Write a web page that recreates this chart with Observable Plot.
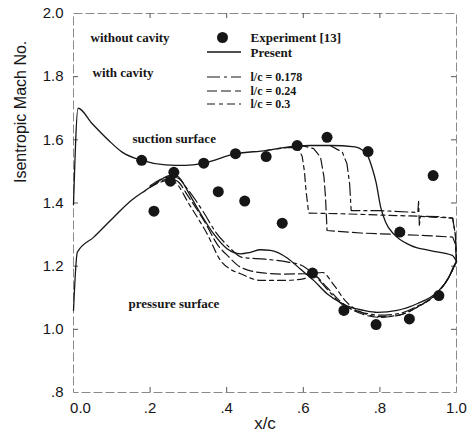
<!DOCTYPE html>
<html>
<head>
<meta charset="utf-8">
<script src="https://cdn.jsdelivr.net/npm/d3@7"></script>
<script src="https://cdn.jsdelivr.net/npm/@observablehq/plot@0.6"></script>
<style>
  html, body { margin: 0; padding: 0; background: #fff; }
  #chart { width: 471px; height: 442px; }
</style>
</head>
<body>
<div id="chart"></div>
<script>
// ---- data ----
const xTicks = [0, 0.2, 0.4, 0.6, 0.8, 1.0];
const yTicks = [0.8, 1.0, 1.2, 1.4, 1.6, 1.8, 2.0];

// Experiment [13]
const expX = [0.178, 0.210, 0.253, 0.262, 0.340, 0.378, 0.423, 0.447, 0.503, 0.545,
              0.584, 0.624, 0.662, 0.706, 0.769, 0.790, 0.852, 0.877, 0.939, 0.954];
const expM = [1.535, 1.374, 1.469, 1.497, 1.526, 1.436, 1.556, 1.406, 1.547, 1.336,
              1.582, 1.178, 1.608, 1.060, 1.563, 1.015, 1.308, 1.033, 1.487, 1.107];

// Present, without cavity — suction surface
const sucX = [0, 0.012, 0.049, 0.092, 0.127, 0.178, 0.24, 0.292, 0.34, 0.423, 0.503, 0.549,
              0.584, 0.619, 0.671, 0.735, 0.754, 0.768, 0.78, 0.79, 0.802, 0.815, 0.836, 0.88, 0.932, 0.989, 1.0];
const sucM = [1.395, 1.70, 1.651, 1.598, 1.561, 1.535, 1.521, 1.519, 1.526, 1.556, 1.566, 1.575,
              1.580, 1.582, 1.582, 1.578, 1.568, 1.550, 1.51, 1.465, 1.387, 1.339, 1.302, 1.266, 1.249, 1.234, 1.215];

// Present, without cavity — pressure surface
const presX = [0, 0.01, 0.053, 0.105, 0.153, 0.188, 0.218, 0.245, 0.262, 0.28, 0.297, 0.332, 0.366, 0.401,
               0.436, 0.462, 0.488, 0.514, 0.558, 0.593, 0.627, 0.662, 0.697, 0.723, 0.758, 0.793,
               0.845, 0.897, 0.95, 0.98, 0.993, 1.0];
const presM = [1.06, 1.244, 1.292, 1.355, 1.41, 1.44, 1.465, 1.485, 1.49, 1.475, 1.44, 1.366, 1.302, 1.255,
               1.239, 1.244, 1.252, 1.25, 1.226, 1.19, 1.155, 1.113, 1.085, 1.07, 1.06, 1.054,
               1.06, 1.081, 1.118, 1.165, 1.2, 1.215];

// With cavity, l/c = 0.178 — suction and pressure surfaces
const s178X = [0.6, 0.67, 0.702, 0.714, 0.721, 0.725, 0.8, 0.899, 0.901, 0.903, 0.906, 0.95, 0.99, 0.997, 1.0];
const s178M = [1.582, 1.582, 1.561, 1.524, 1.46, 1.376, 1.376, 1.37, 1.405, 1.33, 1.358, 1.357, 1.352, 1.30, 1.215];
const p178X = [0.2, 0.25, 0.27, 0.3, 0.34, 0.37, 0.405, 0.44, 0.5, 0.56, 0.6, 0.63, 0.66, 0.7, 0.75, 0.8, 0.85, 0.9, 0.95, 0.98, 1.0];
const p178M = [1.455, 1.482, 1.48, 1.44, 1.37, 1.31, 1.262, 1.228, 1.222, 1.213, 1.2, 1.17, 1.13, 1.08, 1.055, 1.045, 1.05, 1.075, 1.115, 1.165, 1.215];

// With cavity, l/c = 0.24
const s24X = [0.55, 0.6, 0.627, 0.645, 0.654, 0.658, 0.662, 0.75, 0.85, 0.92, 0.99, 0.997, 1.0];
const s24M = [1.575, 1.581, 1.572, 1.545, 1.482, 1.418, 1.313, 1.305, 1.3, 1.297, 1.292, 1.27, 1.215];
const p24X = [0.2, 0.25, 0.27, 0.3, 0.345, 0.375, 0.405, 0.436, 0.5, 0.55, 0.6, 0.63, 0.66, 0.7, 0.75, 0.8, 0.85, 0.9, 0.95, 0.98, 1.0];
const p24M = [1.45, 1.476, 1.47, 1.42, 1.335, 1.27, 1.23, 1.197, 1.178, 1.175, 1.176, 1.17, 1.135, 1.085, 1.05, 1.038, 1.045, 1.072, 1.115, 1.165, 1.215];

// With cavity, l/c = 0.3
const s3X = [0.5, 0.56, 0.585, 0.597, 0.603, 0.607, 0.611, 0.614, 0.7, 0.8, 0.9, 0.99, 0.997, 1.0];
const s3M = [1.566, 1.576, 1.575, 1.548, 1.5, 1.44, 1.4, 1.368, 1.366, 1.362, 1.358, 1.352, 1.30, 1.215];
const p3X = [0.2, 0.25, 0.27, 0.3, 0.35, 0.384, 0.41, 0.436, 0.488, 0.55, 0.6, 0.625, 0.65, 0.68, 0.71, 0.75, 0.8, 0.85, 0.9, 0.95, 0.98, 1.0];
const p3M = [1.45, 1.472, 1.46, 1.40, 1.30, 1.218, 1.19, 1.176, 1.155, 1.155, 1.16, 1.175, 1.18, 1.14, 1.09, 1.055, 1.04, 1.045, 1.072, 1.115, 1.165, 1.215];

// ---- build tables ----
const rows = (xs, ms) => xs.map((x, i) => ({x, m: ms[i]}));
const exp = rows(expX, expM);

const ink = "#161616";
const serif = "'Liberation Serif', 'Times New Roman', serif";
const dash178 = "13,4,3,4";
const dash24 = "10,4";
const dash3 = "8,4,4,4";
const frameW = 383, frameH = 379;

const fmtY = d => d >= 1 ? d.toFixed(1) : d.toFixed(1).replace(/^0/, "");
const fmtX = d => (d === 0 ? "0.0" : d === 1 ? "1.0" : d.toFixed(1).replace(/^0/, ""));

const note = (label, dx, dy, size) => Plot.text([label], {
  frameAnchor: "top-left", dx, dy, textAnchor: "start", lineAnchor: "middle",
  fontFamily: serif, fontWeight: "bold", fontSize: size, fill: ink
});

const chart = Plot.plot({
  width: 471,
  height: 442,
  marginLeft: 73,
  marginRight: 15,
  marginTop: 13,
  marginBottom: 50,
  x: {domain: [0, 1]},
  y: {domain: [0.8, 2.0]},
  style: {fontFamily: "'Liberation Sans', Arial, sans-serif", fontSize: "15px", color: ink, background: "#fff"},
  marks: [
    Plot.frame({stroke: "#8a8a8a", strokeWidth: 1, strokeDasharray: "9,3"}),
    // inward ticks on all sides
    Plot.ruleX(xTicks.slice(1, -1), {x: d => d, insetTop: frameH - 5, stroke: "#555"}),
    Plot.ruleX(xTicks.slice(1, -1), {x: d => d, insetBottom: frameH - 5, stroke: "#555"}),
    Plot.ruleY(yTicks.slice(1, -1), {y: d => d, insetRight: frameW - 5, stroke: "#555"}),
    Plot.ruleY(yTicks.slice(1, -1), {y: d => d, insetLeft: frameW - 5, stroke: "#555"}),
    // axes
    Plot.axisY(yTicks, {tickSize: 0, tickPadding: 10, tickFormat: fmtY, label: null, fontSize: 15}),
    Plot.axisX(xTicks.slice(1), {tickSize: 0, tickPadding: 10, tickFormat: fmtX, label: null, fontSize: 15}),
    Plot.axisX([0], {tickSize: 0, tickPadding: 10, tickFormat: fmtX, label: null, fontSize: 15, dx: 7}),
    Plot.text(["Isentropic Mach No."], {frameAnchor: "left", rotate: -90, dx: -53, dy: -20, fontSize: 16, fill: ink}),
    Plot.text(["x/c"], {frameAnchor: "bottom", dy: 36, fontSize: 17, fill: ink}),
    // without cavity
    Plot.line(rows(sucX, sucM), {x: "x", y: "m", stroke: ink, strokeWidth: 1.3, curve: "monotone-x"}),
    Plot.line(rows(presX, presM), {x: "x", y: "m", stroke: ink, strokeWidth: 1.3, curve: "monotone-x"}),
    // with cavity
    Plot.line(rows(s178X, s178M), {x: "x", y: "m", stroke: ink, strokeWidth: 1.2, strokeDasharray: dash178, curve: "linear"}),
    Plot.line(rows(p178X, p178M), {x: "x", y: "m", stroke: ink, strokeWidth: 1.2, strokeDasharray: dash178, curve: "monotone-x"}),
    Plot.line(rows(s24X, s24M), {x: "x", y: "m", stroke: ink, strokeWidth: 1.2, strokeDasharray: dash24, curve: "linear"}),
    Plot.line(rows(p24X, p24M), {x: "x", y: "m", stroke: ink, strokeWidth: 1.2, strokeDasharray: dash24, curve: "monotone-x"}),
    Plot.line(rows(s3X, s3M), {x: "x", y: "m", stroke: ink, strokeWidth: 1.2, strokeDasharray: dash3, curve: "linear"}),
    Plot.line(rows(p3X, p3M), {x: "x", y: "m", stroke: ink, strokeWidth: 1.2, strokeDasharray: dash3, curve: "monotone-x"}),
    // experiment
    Plot.dot(exp, {x: "x", y: "m", r: 5.5, fill: ink, stroke: "none"}),
    // annotations
    note("without cavity", 17, 24, 13),
    note("with cavity", 19, 59, 13),
    note("suction surface", 59, 125, 13),
    note("pressure surface", 55, 290, 13),
    // legend
    Plot.dot([0], {frameAnchor: "top-left", dx: 149, dy: 24, r: 5.5, fill: ink, stroke: "none"}),
    note("Experiment [13]", 177, 24, 13),
    note("Present", 177, 39, 13),
    note("l/c = 0.178", 177, 64, 12),
    note("l/c = 0.24", 177, 78, 12),
    note("l/c = 0.3", 177, 91, 12)
  ]
});

// legend line swatches
const svg = d3.select(chart);
const swatches = [
  {y: 52, dash: null, w: 1.3},
  {y: 77, dash: dash178, w: 1.2},
  {y: 91, dash: dash24, w: 1.2},
  {y: 104, dash: dash3, w: 1.2}
];
svg.append("g").selectAll("line").data(swatches).join("line")
  .attr("x1", 207).attr("x2", 241)
  .attr("y1", d => d.y).attr("y2", d => d.y)
  .attr("stroke", ink).attr("stroke-width", d => d.w)
  .attr("stroke-dasharray", d => d.dash);

document.getElementById("chart").appendChild(chart);
</script>
</body>
</html>
